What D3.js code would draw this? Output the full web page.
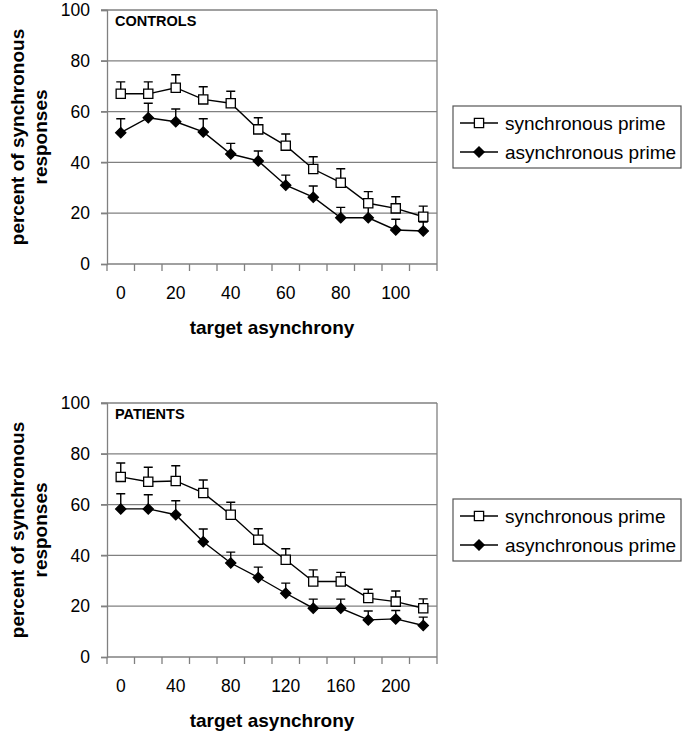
<!DOCTYPE html>
<html>
<head>
<meta charset="utf-8">
<script src="https://cdn.jsdelivr.net/npm/d3@7"></script>
<style>
  body { margin: 0; background: #fff; }
  svg { display: block; font-family: "Liberation Sans", Arial, sans-serif; }
</style>
</head>
<body>
<div class="chart"></div>
<script>
// controls panel
const controlsDelays = [0, 10, 20, 30, 40, 50, 60, 70, 80, 90, 100, 110];
const controlsTicks = [0, 20, 40, 60, 80, 100];
const controlsSync = [67, 67, 69.4, 64.8, 63.3, 53, 46.6, 37.4, 32, 23.9, 21.9, 18.6];
const controlsSyncErr = [4.7, 4.7, 5.1, 5, 4.7, 4.6, 4.6, 4.8, 5.5, 4.6, 4.6, 4.2];
const controlsAsync = [51.7, 57.6, 56, 52, 43.3, 40.6, 31, 26.3, 18.2, 18.2, 13.4, 13];
const controlsAsyncErr = [5.5, 5.7, 5, 5.2, 4.2, 3.9, 4, 4.4, 4.1, 4.1, 4.2, 3.5];

// patients panel
const patientsDelays = [0, 20, 40, 60, 80, 100, 120, 140, 160, 180, 200, 220];
const patientsTicks = [0, 40, 80, 120, 160, 200];
const patientsSync = [70.9, 69, 69.3, 64.6, 56, 46.2, 38.3, 29.7, 29.7, 23.2, 21.8, 19.2];
const patientsSyncErr = [5.5, 5.7, 6, 5.1, 4.9, 4.3, 4.3, 4.6, 3.6, 3.5, 4.2, 3.7];
const patientsAsync = [58.3, 58.3, 56, 45.4, 37, 31.3, 25.1, 19.2, 19.2, 14.6, 15, 12.4];
const patientsAsyncErr = [6, 5.6, 5.5, 5, 4.3, 4.1, 4, 3.6, 3.6, 3.5, 3.3, 3.3];

const yTicks = [0, 20, 40, 60, 80, 100];
const seriesNames = ["synchronous prime", "asynchronous prime"];

const width = 686;
const height = 732;
const grey = "#808080";

const svg = d3.select(".chart")
  .append("svg")
  .attr("width", width)
  .attr("height", height);

// square marker, and a square turned 45 degrees for the diamond
const square = d3.symbol().type(d3.symbolSquare).size(85);
const diamond = d3.symbol().type(d3.symbolSquare).size(52);
const markers = {
  sync: { sym: square, rot: 0, fill: "#fff" },
  async: { sym: diamond, rot: 45, fill: "#000" }
};

function drawPanel(top, label, delays, ticks, sync, syncErr, async, asyncErr) {
  const left = 107, right = 437, bottom = top + 254;

  const x = d3.scaleBand().domain(delays).range([left, right]);
  const y = d3.scaleLinear().domain([0, 100]).range([bottom, top]);

  const g = svg.append("g");

  // grid
  g.selectAll(".grid")
    .data(yTicks.filter(d => d > 0))
    .enter()
    .append("line")
    .attr("x1", left - 6)
    .attr("x2", right)
    .attr("y1", d => y(d))
    .attr("y2", d => y(d))
    .attr("stroke", grey)
    .attr("stroke-width", 1.3);

  // right border
  g.append("line")
    .attr("x1", right).attr("x2", right)
    .attr("y1", top).attr("y2", bottom)
    .attr("stroke", grey).attr("stroke-width", 1.3);

  // y axis
  const yAxis = g.append("g")
    .attr("transform", `translate(${left},0)`)
    .call(d3.axisLeft(y).tickValues(yTicks).tickSize(6).tickPadding(11));
  yAxis.select(".domain").attr("stroke", grey).attr("stroke-width", 1.3);
  yAxis.selectAll(".tick line").attr("stroke", grey).attr("stroke-width", 1.3);
  yAxis.selectAll("text")
    .attr("fill", "#000")
    .style("font-size", "17.5px")
    .style("font-family", "Liberation Sans, Arial, sans-serif");

  // x axis, ticks between categories
  const xb = g.append("g").attr("transform", `translate(0,${bottom})`);
  xb.append("line")
    .attr("x1", left).attr("x2", right)
    .attr("stroke", grey).attr("stroke-width", 1.3);
  xb.selectAll(".xt")
    .data(delays.concat(["end"]))
    .enter()
    .append("line")
    .attr("x1", (d, i) => left + i * x.bandwidth())
    .attr("x2", (d, i) => left + i * x.bandwidth())
    .attr("y1", 0).attr("y2", 7)
    .attr("stroke", grey).attr("stroke-width", 1.3);
  xb.selectAll("text")
    .data(ticks)
    .enter()
    .append("text")
    .attr("x", d => x(d) + x.bandwidth() / 2)
    .attr("y", 35)
    .attr("text-anchor", "middle")
    .style("font-size", "17.5px")
    .text(d => d);

  // titles
  g.append("text")
    .attr("x", (left + right) / 2)
    .attr("y", bottom + 70)
    .attr("text-anchor", "middle")
    .style("font-size", "19px")
    .style("font-weight", "bold")
    .text("target asynchrony");

  const yt = g.append("text")
    .attr("transform", `translate(24,${(top + bottom) / 2}) rotate(-90)`)
    .attr("text-anchor", "middle")
    .style("font-size", "19px")
    .style("font-weight", "bold");
  yt.append("tspan").attr("x", 0).attr("dy", 0).text("percent of synchronous");
  yt.append("tspan").attr("x", 0).attr("dy", 23).text("responses");

  g.append("text")
    .attr("x", left + 8)
    .attr("y", top + 16)
    .style("font-size", "14.5px")
    .style("font-weight", "bold")
    .text(label);

  const series = [
    { vals: async, err: asyncErr, m: markers.async },
    { vals: sync, err: syncErr, m: markers.sync }
  ];

  series.forEach(s => {
    const pts = delays.map((d, i) => ({ d: d, v: s.vals[i], e: s.err[i] }));
    const cx = p => x(p.d) + x.bandwidth() / 2;

    // error bars (upper only)
    g.selectAll(null)
      .data(pts)
      .enter()
      .append("path")
      .attr("d", p => `M${cx(p)},${y(p.v)}V${y(p.v + p.e)}M${cx(p) - 4.5},${y(p.v + p.e)}H${cx(p) + 4.5}`)
      .attr("stroke", "#000")
      .attr("stroke-width", 1.4)
      .attr("fill", "none");

    g.append("path")
      .datum(pts)
      .attr("d", d3.line().x(cx).y(p => y(p.v)))
      .attr("stroke", "#000")
      .attr("stroke-width", 1.4)
      .attr("fill", "none");

    g.selectAll(null)
      .data(pts)
      .enter()
      .append("path")
      .attr("d", s.m.sym)
      .attr("transform", p => `translate(${cx(p)},${y(p.v)}) rotate(${s.m.rot})`)
      .attr("fill", s.m.fill)
      .attr("stroke", "#000")
      .attr("stroke-width", 1.3);
  });

  // legend
  const lg = g.append("g").attr("transform", `translate(453,${top + 96})`);
  lg.append("rect")
    .attr("width", 228).attr("height", 62)
    .attr("fill", "#fff").attr("stroke", "#555").attr("stroke-width", 1.2);
  const items = [
    { name: seriesNames[0], m: markers.sync },
    { name: seriesNames[1], m: markers.async }
  ];
  const row = lg.selectAll(".item")
    .data(items)
    .enter()
    .append("g")
    .attr("transform", (d, i) => `translate(0,${17 + i * 29})`);
  row.append("line")
    .attr("x1", 7).attr("x2", 45)
    .attr("stroke", "#000").attr("stroke-width", 1.4);
  row.append("path")
    .attr("d", d => d.m.sym())
    .attr("transform", d => `translate(26,0) rotate(${d.m.rot})`)
    .attr("fill", d => d.m.fill)
    .attr("stroke", "#000")
    .attr("stroke-width", 1.3);
  row.append("text")
    .attr("x", 52)
    .attr("y", 6.5)
    .style("font-size", "19px")
    .text(d => d.name);
}

drawPanel(10, "CONTROLS", controlsDelays, controlsTicks,
  controlsSync, controlsSyncErr, controlsAsync, controlsAsyncErr);
drawPanel(403, "PATIENTS", patientsDelays, patientsTicks,
  patientsSync, patientsSyncErr, patientsAsync, patientsAsyncErr);
</script>
</body>
</html>
